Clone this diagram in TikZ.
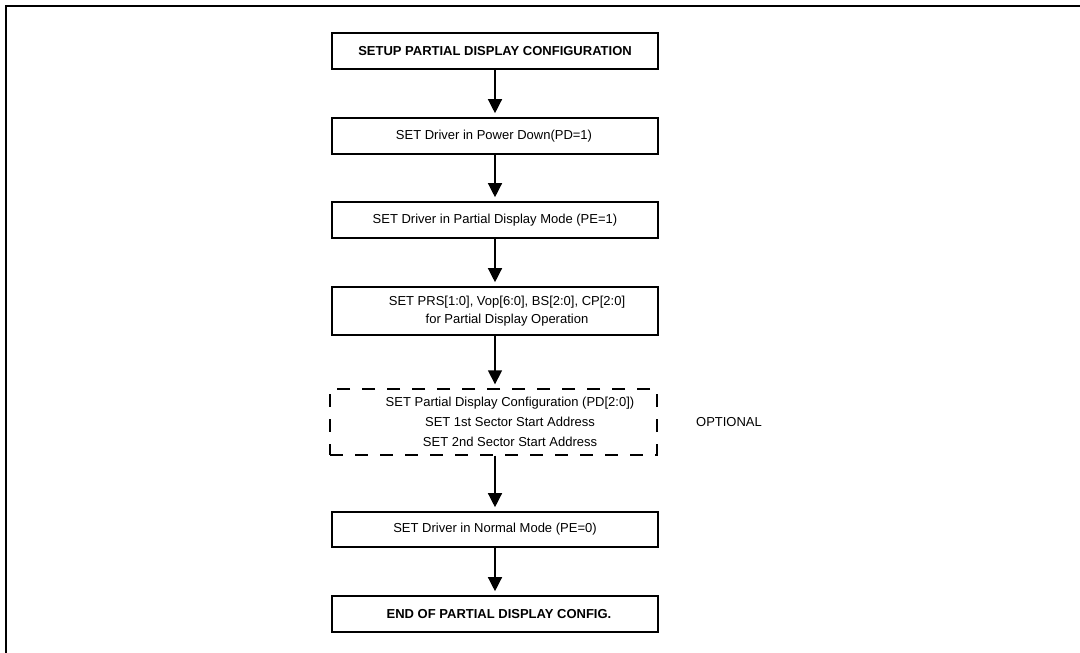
\documentclass[tikz,border=0pt]{standalone}
\usepackage{fontspec}
\setmainfont{Liberation Sans}
\usetikzlibrary{arrows.meta}
\begin{document}
\begin{tikzpicture}[x=1pt,y=-1pt,
  box/.style={draw,line width=1.6pt,minimum width=326pt,inner sep=0pt},
  dbox/.style={draw,line width=1.3pt,dash pattern=on 13pt off 12pt,minimum width=327pt,inner sep=0pt},
  txt/.style={font=\fontsize{13}{18}\selectfont,align=center,inner sep=0pt},
  btxt/.style={font=\fontsize{13}{18}\selectfont\bfseries,align=center,inner sep=0pt},
  flow/.style={line width=1.3pt,-{Triangle[length=14pt,width=14pt]},shorten >=4pt}]
\useasboundingbox (0,0) rectangle (1080,653);
\draw[line width=2.6pt] (6,653) -- (6,6) -- (1080,6);
\node[box,minimum height=36pt] (b1) at (495,51) {};
\node[btxt] (t1) at (495,51) {SETUP PARTIAL DISPLAY CONFIGURATION};
\node[box,minimum height=36pt] (b2) at (495,136) {};
\node[txt] (t2) at (494,136) {SET Driver in Power Down(PD=1)};
\node[box,minimum height=36pt] (b3) at (495,220) {};
\node[txt] (t3) at (495,220) {SET Driver in Partial Display Mode (PE=1)};
\node[box,minimum height=48pt] (b4) at (495,311) {};
\node[txt] (t4) at (507,311) {SET PRS[1:0], Vop[6:0], BS[2:0], CP[2:0]\\for Partial Display Operation};
\node[dbox,minimum height=66pt] (b5) at (493.5,422) {};
\node[txt,font=\fontsize{13}{20}\selectfont] (t5) at (510,422) {SET Partial Display Configuration (PD[2:0])\\SET 1st Sector Start Address\\SET 2nd Sector Start Address};
\node[txt] (opt) at (729,422) {OPTIONAL};
\node[box,minimum height=35pt] (b6) at (495,529.5) {};
\node[txt] (t6) at (495,529.5) {SET Driver in Normal Mode (PE=0)};
\node[box,minimum height=36pt] (b7) at (495,614) {};
\node[btxt] (t7) at (499,614) {END OF PARTIAL DISPLAY CONFIG.};
\draw[flow] (b1.south) -- (b2.north);
\draw[flow] (b2.south) -- (b3.north);
\draw[flow] (b3.south) -- (b4.north);
\draw[flow] (b4.south) -- (b4.south |- b5.north);
\draw[flow] (b4.south |- b5.south) -- (b6.north);
\draw[flow] (b6.south) -- (b7.north);
\end{tikzpicture}
\end{document}
